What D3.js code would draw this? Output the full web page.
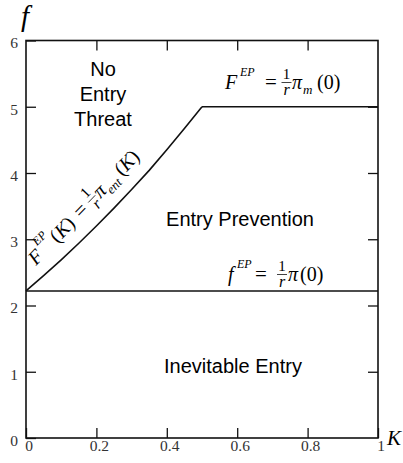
<!DOCTYPE html>
<html>
<head>
<meta charset="utf-8">
<script src="https://cdn.jsdelivr.net/npm/d3@7"></script>
<style>
  body { margin: 0; background: #fff; }
</style>
</head>
<body>
<svg id="chart" width="403" height="463"></svg>
<script>
// tick values
var xTicks = [0, 0.2, 0.4, 0.6, 0.8, 1];
var yTicks = [0, 1, 2, 3, 4, 5, 6];
var innerTicks = [1, 2, 3, 4, 5];

// F^EP(K) boundary
var boundK = [0, 0.05, 0.1, 0.15, 0.2, 0.25, 0.3, 0.35, 0.4, 0.45, 0.5];
var boundF = [2.22, 2.45, 2.69, 2.94, 3.2, 3.47, 3.75, 4.04, 4.35, 4.67, 5.0];

// flat boundaries
var fEntry = 2.22;     // f^EP = pi(0) / r
var fMonopoly = 5;     // F^EP = pi_m(0) / r
var kMonopoly = 0.5;

// region names
var regionNoThreat = ['No', 'Entry', 'Threat'];
var regionPrevent = 'Entry Prevention';
var regionInevitable = 'Inevitable Entry';

var SERIF = '"Liberation Serif", "DejaVu Serif", serif';
var SANS = '"Liberation Sans", Arial, sans-serif';

var svg = d3.select('#chart');
var x = d3.scaleLinear().domain([0, 1]).range([26, 378]);
var y = d3.scaleLinear().domain([0, 6]).range([438, 40.5]);
var ink = '#111';

function styleAxis(g) {
  g.attr('font-family', null).attr('font-size', null);
  g.select('.domain').remove();
  g.selectAll('.tick line').attr('stroke', ink).attr('stroke-width', 1.3);
  g.selectAll('.tick text')
    .style('font-family', SERIF)
    .style('font-size', '15.5px')
    .attr('fill', '#333');
  return g;
}

// axes, ticks pointing inward
svg.append('g').attr('transform', 'translate(0,' + y(0) + ')')
  .call(d3.axisBottom(x).tickValues(xTicks).tickSize(-10).tickPadding(2).tickFormat(d3.format('')))
  .call(styleAxis)
  .selectAll('.tick text').attr('dx', 2.5);

svg.append('g').attr('transform', 'translate(0,' + y(6) + ')')
  .call(d3.axisTop(x).tickValues(xTicks.slice(1, -1)).tickSize(-10).tickFormat(''))
  .call(styleAxis);

svg.append('g').attr('transform', 'translate(' + x(0) + ',0)')
  .call(d3.axisLeft(y).tickValues(yTicks).tickSize(-10).tickPadding(8).tickFormat(d3.format('d')))
  .call(styleAxis)
  .selectAll('.tick text').attr('dy', '0.47em');

svg.append('g').attr('transform', 'translate(' + x(1) + ',0)')
  .call(d3.axisRight(y).tickValues(innerTicks).tickSize(-10).tickFormat(''))
  .call(styleAxis);

// frame
svg.append('rect')
  .attr('x', x(0)).attr('y', y(6))
  .attr('width', x(1) - x(0)).attr('height', y(0) - y(6))
  .attr('fill', 'none').attr('stroke', ink).attr('stroke-width', 1.6);

// boundaries
var line = d3.line().x(function(d) { return x(d[0]); }).y(function(d) { return y(d[1]); });

svg.append('path')
  .datum(d3.zip(boundK, boundF))
  .attr('d', line)
  .attr('fill', 'none').attr('stroke', ink).attr('stroke-width', 1.6);

svg.append('path')
  .datum([[0, fEntry], [1, fEntry]])
  .attr('d', line)
  .attr('fill', 'none').attr('stroke', ink).attr('stroke-width', 1.6);

svg.append('path')
  .datum([[kMonopoly, fMonopoly], [1, fMonopoly]])
  .attr('d', line)
  .attr('fill', 'none').attr('stroke', ink).attr('stroke-width', 1.6);

// axis titles
svg.append('text')
  .attr('x', 21).attr('y', 26)
  .style('font-family', SERIF)
  .style('font-size', '29px').style('font-style', 'italic')
  .text('f');

svg.append('text')
  .attr('x', 387).attr('y', 445)
  .style('font-family', SERIF)
  .style('font-size', '21px').style('font-style', 'italic')
  .text('K');

// region labels
var noThreat = svg.append('text')
  .attr('text-anchor', 'middle')
  .style('font-family', SANS).style('font-size', '20px');
regionNoThreat.forEach(function(s, i) {
  noThreat.append('tspan').attr('x', 103).attr('y', 76 + i * 25).text(s);
});

svg.append('text')
  .attr('x', 240).attr('y', 226).attr('text-anchor', 'middle')
  .style('font-family', SANS).style('font-size', '20px').text(regionPrevent);

svg.append('text')
  .attr('x', 233).attr('y', 373).attr('text-anchor', 'middle')
  .style('font-family', SANS).style('font-size', '20px').text(regionInevitable);

// math labels: [text, dx, dy, size, italic]
function mathLabel(transform, pieces, frac) {
  var g = svg.append('g').attr('transform', transform).style('font-family', SERIF);
  pieces.forEach(function(p) {
    var t = g.append('text')
      .attr('x', p[1]).attr('y', p[2])
      .style('font-size', p[3] + 'px')
      .style('font-style', p[4] ? 'italic' : 'normal');
    if (p[0] === '(K)') {
      t.append('tspan').text('(');
      t.append('tspan').style('font-style', 'italic').text('K');
      t.append('tspan').text(')');
    } else {
      t.text(p[0]);
    }
  });
  // 1 over r
  g.append('text').attr('x', frac).attr('y', -10.5).attr('text-anchor', 'middle')
    .style('font-size', '15px').text('1');
  g.append('line')
    .attr('x1', frac - 5).attr('x2', frac + 5)
    .attr('y1', -6.5).attr('y2', -6.5)
    .attr('stroke', ink).attr('stroke-width', 0.8);
  g.append('text').attr('x', frac).attr('y', 5.5).attr('text-anchor', 'middle')
    .style('font-size', '16px').style('font-style', 'italic').text('r');
  return g;
}

mathLabel('translate(225,89)', [
  ['F', 0, 0, 20, true],
  ['EP', 15, -13, 12, true],
  ['=', 40, 0, 21, false],
  ['\u03c0', 67, 0, 20, true],
  ['m', 78, 5, 13, true],
  ['(0)', 92, 0, 20, false]
], 61.5);

mathLabel('translate(227,281)', [
  ['f', 1, 0, 20, true],
  ['EP', 10, -13, 12, true],
  ['=', 28, 0, 21, false],
  ['\u03c0', 61, 0, 20, true],
  ['(0)', 73, 0, 20, false]
], 55);

mathLabel('translate(36,266) rotate(-46)', [
  ['F', 0, 0, 20, true],
  ['EP', 15, -13, 12, true],
  ['(K)', 31, 0, 20, false],
  ['=', 65, 0, 21, false],
  ['\u03c0', 93, 0, 20, true],
  ['ent', 104, 5, 13, true],
  ['(K)', 124, 0, 20, false]
], 87);
</script>
</body>
</html>
